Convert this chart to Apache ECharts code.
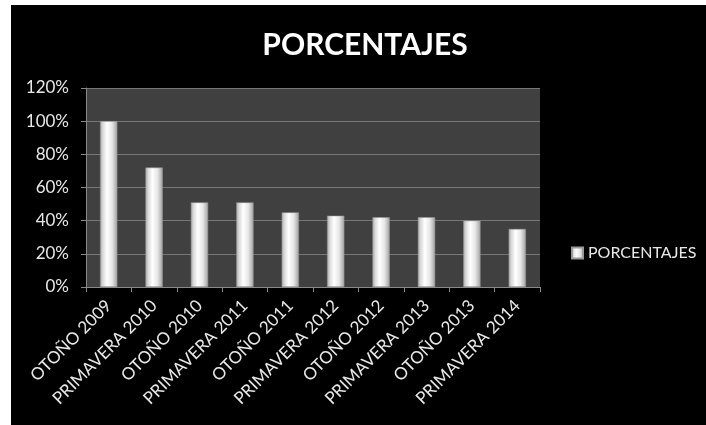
<!DOCTYPE html>
<html>
<head>
<meta charset="utf-8">
<script src="https://cdn.jsdelivr.net/npm/echarts@6/dist/echarts.min.js"></script>
<style>
html,body{margin:0;padding:0;background:#fff;}
#chart{width:706px;height:425px;}
</style>
</head>
<body>
<div id="chart"></div>
<script>
var categories = ['OTOÑO 2009','PRIMAVERA 2010','OTOÑO 2010','PRIMAVERA 2011','OTOÑO 2011','PRIMAVERA 2012','OTOÑO 2012','PRIMAVERA 2013','OTOÑO 2013','PRIMAVERA 2014'];
var values = [1.00, 0.72, 0.51, 0.51, 0.45, 0.43, 0.42, 0.42, 0.40, 0.35];
var seriesName = 'PORCENTAJES';
var titleText = 'PORCENTAJES';

var chart = echarts.init(document.getElementById('chart'));
var barGrad = new echarts.graphic.LinearGradient(0, 0, 1, 0, [
  {offset: 0, color: '#a8a8a8'},
  {offset: 0.15, color: '#d8d8d8'},
  {offset: 0.4, color: '#ffffff'},
  {offset: 0.7, color: '#e6e6e6'},
  {offset: 1, color: '#a0a0a0'}
]);
var font = 'Lato, "Noto Sans", sans-serif';
chart.setOption({
  backgroundColor: '#ffffff',
  animation: false,
  textStyle: {fontFamily: font},
  graphic: [{
    type: 'rect', z: -10, silent: true,
    shape: {x: 11, y: 5, width: 695, height: 420},
    style: {fill: '#000000'}
  }],
  title: {
    text: titleText,
    left: 360, top: 25, textAlign: 'center',
    textStyle: {color: '#ffffff', fontSize: 30, fontWeight: 'bold', fontFamily: font}
  },
  legend: {
    data: [seriesName],
    left: 566, top: 240,
    icon: 'rect', itemWidth: 11, itemHeight: 11, itemGap: 6,
    textStyle: {color: '#e8e8e8', fontSize: 16, fontFamily: font},
    itemStyle: {color: barGrad}
  },
  grid: {left: 86, right: 166, top: 88, bottom: 138, show: true, backgroundColor: '#404040', borderWidth: 0},
  xAxis: {
    type: 'category',
    data: categories,
    boundaryGap: true,
    axisLine: {lineStyle: {color: '#8a8a8a', width: 1}},
    axisTick: {show: true, length: 5, lineStyle: {color: '#8a8a8a'}},
    axisLabel: {rotate: 45, color: '#e8e8e8', fontSize: 17, margin: 16, interval: 0, fontFamily: font}
  },
  yAxis: {
    type: 'value',
    min: 0, max: 1.2, interval: 0.2,
    axisLine: {show: true, lineStyle: {color: '#8a8a8a', width: 1}},
    axisTick: {show: true, length: 5, lineStyle: {color: '#8a8a8a'}},
    splitLine: {show: true, lineStyle: {color: '#777777', width: 1}},
    axisLabel: {color: '#e8e8e8', fontSize: 17, margin: 17, fontFamily: font,
      formatter: function(v){ return Math.round(v*100) + '%'; }}
  },
  series: [{
    name: seriesName,
    type: 'bar',
    data: values,
    barWidth: '38%',
    itemStyle: {color: barGrad, borderColor: '#9a9a9a', borderWidth: 0.5}
  }]
});
</script>
</body>
</html>
